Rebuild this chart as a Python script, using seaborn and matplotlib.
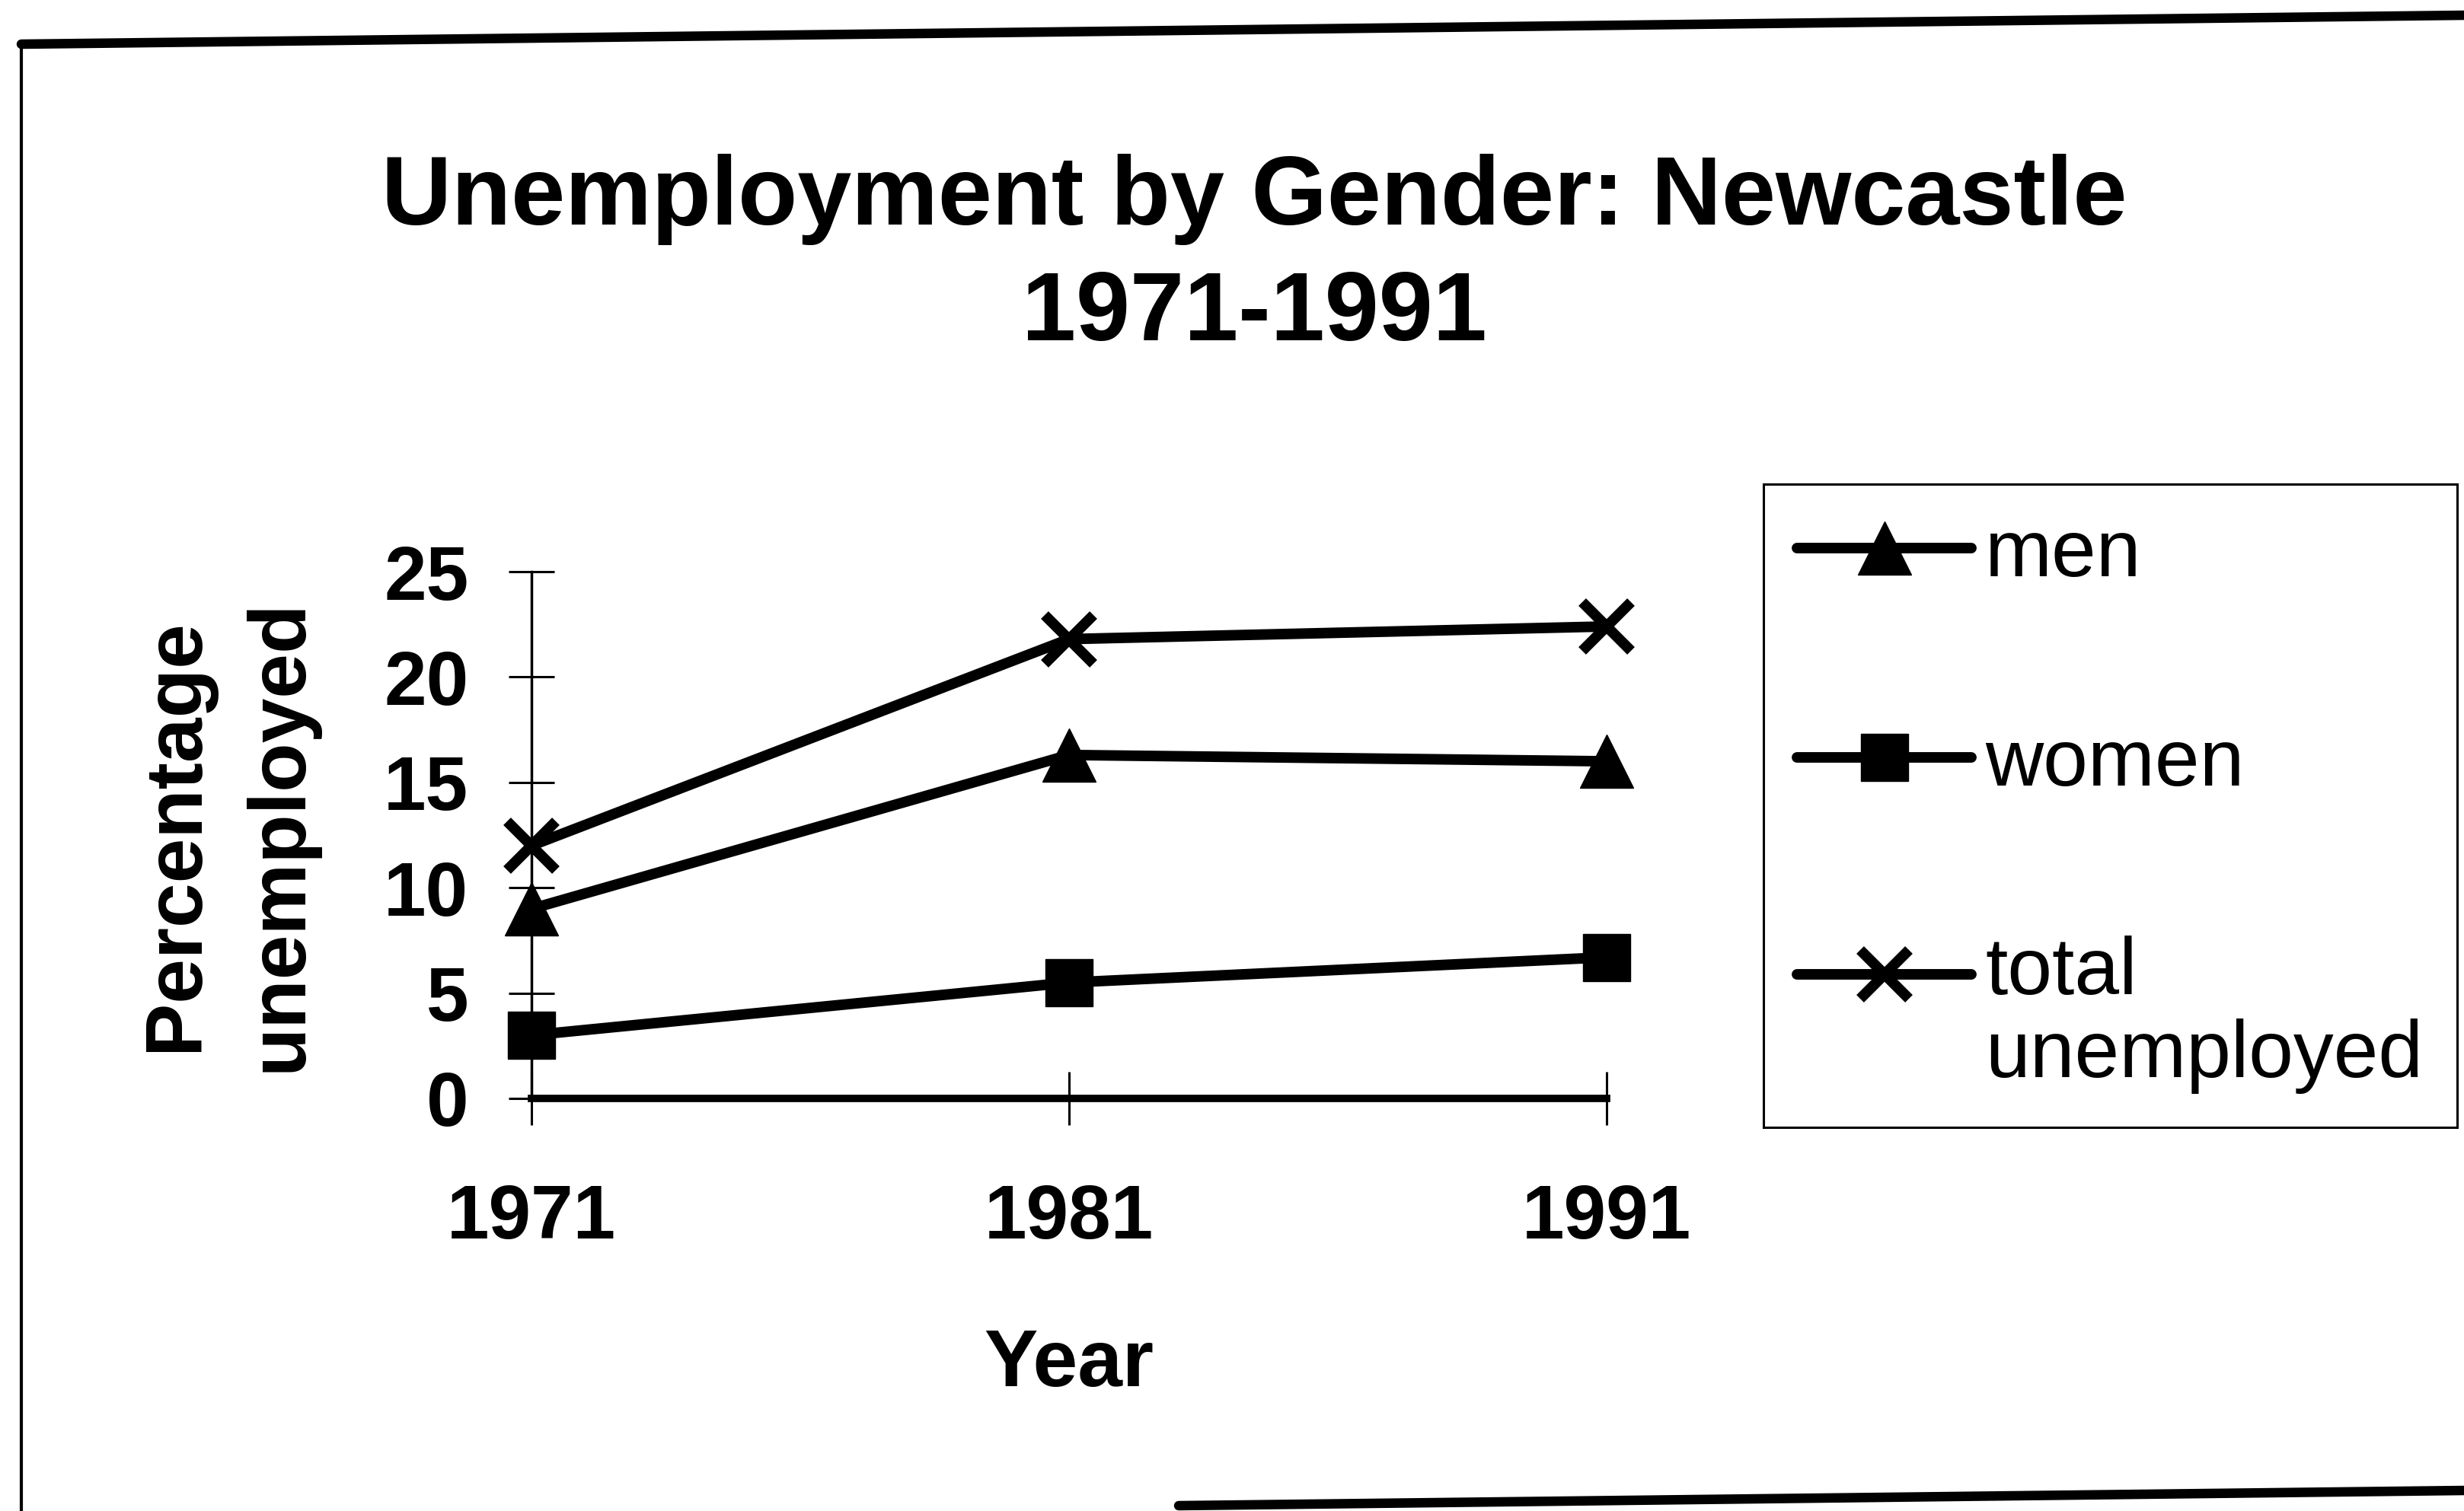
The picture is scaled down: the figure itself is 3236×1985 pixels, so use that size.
import numpy as np
import pandas as pd
import matplotlib
matplotlib.use("Agg")
import matplotlib.pyplot as plt
from matplotlib.lines import Line2D
import seaborn as sns

# ---- data ----
years = [1971, 1981, 1991]
men = [9.0, 16.3, 16.0]
women = [3.0, 5.5, 6.7]
total = [12.0, 21.8, 22.4]
series_names = ["men", "women", "total\nunemployed"]
y_ticks = [0, 5, 10, 15, 20, 25]
title_line1 = "Unemployment by Gender: Newcastle"
title_line2 = "1971-1991"
x_label = "Year"
y_label = "Percentage\nunemployed"

sns.set_theme(style="white")
plt.rcParams["font.family"] = ["Liberation Sans", "DejaVu Sans"]
plt.rcParams["text.color"] = "black"
plt.rcParams["axes.labelcolor"] = "black"
plt.rcParams["xtick.color"] = "black"
plt.rcParams["ytick.color"] = "black"
plt.rcParams["legend.labelcolor"] = "black"

W, H = 3237, 1985
fig = plt.figure(figsize=(W / 100, H / 100), dpi=100)
fig.patch.set_facecolor("white")

ax = fig.add_axes([698 / W, 1 - 1443 / H, (2110 - 698) / W, (1443 - 751) / H])
ax.set_facecolor("white")

styles = [
    dict(marker="^", markersize=50, markeredgewidth=1, markeredgecolor="black", markerfacecolor="black"),
    dict(marker="s", markersize=45, markeredgewidth=1, markeredgecolor="black", markerfacecolor="black"),
    dict(marker="x", markersize=46, markeredgewidth=10, markeredgecolor="black"),
]
for vals, name, st in zip([men, women, total], series_names, styles):
    sns.lineplot(x=years, y=vals, ax=ax, color="black", linewidth=10,
                 label=name, clip_on=False, zorder=5, **st)

ax.set_xlim(years[0], years[-1])
ax.set_ylim(0, 25)
ax.set_xticks(years)
ax.set_xticklabels([str(y) for y in years])
ax.set_yticks(y_ticks)
ax.set_yticklabels([str(v) for v in y_ticks])

for s in ["top", "right"]:
    ax.spines[s].set_visible(False)
ax.spines["left"].set_linewidth(2.5)
ax.spines["bottom"].set_linewidth(7)
ax.spines["left"].set_color("black")
ax.spines["bottom"].set_color("black")

ax.tick_params(axis="y", direction="inout", length=43, width=2.2, color="black",
               pad=38, labelsize=72, left=True, labelcolor="black")
ax.tick_params(axis="x", direction="inout", length=50, width=2.2, color="black",
               pad=55, labelsize=72, bottom=True, labelcolor="black")
for lab in ax.get_xticklabels() + ax.get_yticklabels():
    lab.set_fontweight("bold")

ax.set_xlabel(x_label, fontsize=76, fontweight="bold", va="top", color="black")
ax.xaxis.set_label_coords(0.5, (1443 - 1744) / (1443 - 751))
ax.set_ylabel(y_label, fontsize=76, fontweight="bold", linespacing=1.5, color="black")
ax.yaxis.set_label_coords((418 - 698) / (2110 - 698), 0.5)

leg = ax.legend(loc="upper left", bbox_to_anchor=(2316 / W, 1 - 636 / H),
                bbox_transform=fig.transFigure, borderaxespad=0,
                frameon=True, fancybox=False, shadow=False, framealpha=1,
                edgecolor="black", fontsize=76, handlelength=2.17,
                handletextpad=0.17, labelspacing=1.66, borderpad=0.42)
leg.get_frame().set_linewidth(2.2)
for t in leg.get_texts():
    t.set_linespacing(1.13)
    t.set_color("black")
h3 = leg.legend_handles[2]
h3.set_ydata(np.asarray(h3.get_ydata()) + 39)

# title
fig.text(1647 / W, 1 - 295 / H, title_line1, ha="center", va="baseline",
         fontsize=92, fontweight="bold", color="black")
fig.text(1647 / W, 1 - 447 / H, title_line2, ha="center", va="baseline",
         fontsize=92, fontweight="bold", color="black")

# scanned page frame
fig.add_artist(Line2D([28 / W, 1.0], [1 - 58 / H, 1 - 20 / H], transform=fig.transFigure,
                      color="black", linewidth=9))
fig.add_artist(Line2D([28 / W, 28 / W], [1 - 58 / H, 0.0], transform=fig.transFigure,
                      color="black", linewidth=3))
fig.add_artist(Line2D([1548 / W, 1.0], [1 - 1978 / H, 1 - 1958 / H], transform=fig.transFigure,
                      color="black", linewidth=9))

fig.savefig("out.png", dpi=100, facecolor="white")
